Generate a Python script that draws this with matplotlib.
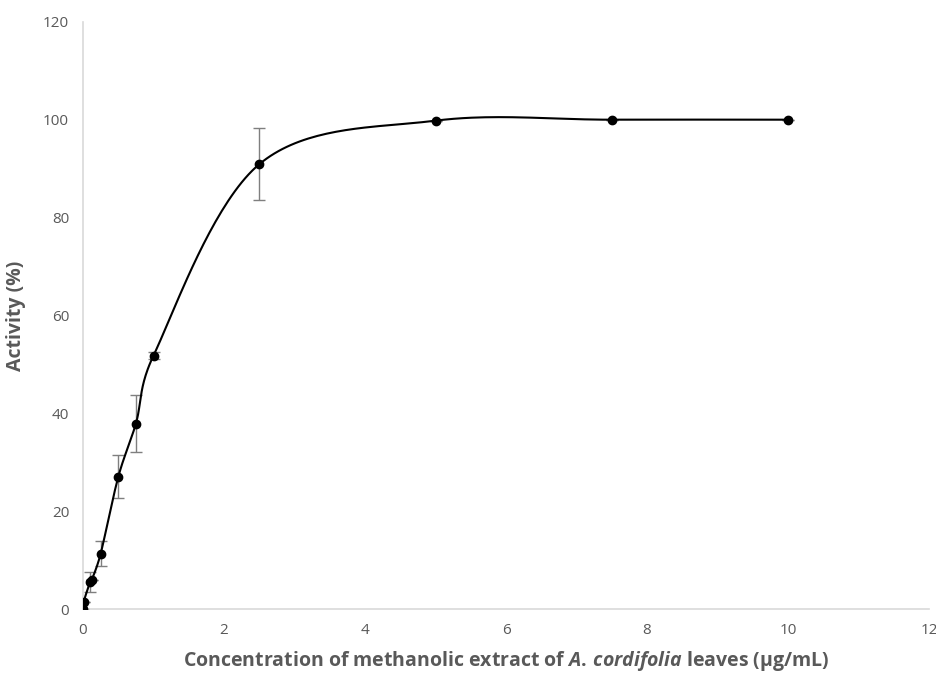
import numpy as np
import matplotlib
matplotlib.use("Agg")
import matplotlib.pyplot as plt

# data
conc = [0, 0.01, 0.1, 0.125, 0.25, 0.5, 0.75, 1.0, 2.5, 5.0, 7.5, 10.0]
activity = [0, 1.5, 5.5, 6.0, 11.3, 27.0, 37.9, 51.8, 90.9, 99.8, 100.0, 100.0]
err = [0, 0, 2.0, 0, 2.5, 4.4, 5.8, 0.8, 7.3, 0, 0, 0]

plt.rcParams['font.family'] = ['Open Sans', 'DejaVu Sans']
plt.rcParams['mathtext.fontset'] = 'custom'
plt.rcParams['mathtext.it'] = 'Open Sans:italic:bold'
plt.rcParams['mathtext.rm'] = 'Open Sans:bold'
grey = '#595959'


def smooth(x, y, sx=70.5, sy=4.89, n=40):
    # excel style smoothed line: catmull-rom bezier arms (1/6),
    # clamped to half the segment length (pixel space)
    P = np.column_stack([np.asarray(x, float) * sx, np.asarray(y, float) * sy])
    m = len(P)
    t = np.linspace(0, 1, n)[:, None]
    out = []
    for i in range(m - 1):
        p0, p3 = P[i], P[i + 1]
        seg = np.hypot(*(p3 - p0))
        a1 = (P[i + 1] - P[max(i - 1, 0)]) / 6
        a2 = (P[min(i + 2, m - 1)] - P[i]) / 6
        for a in (a1, a2):
            la = np.hypot(*a)
            if la > 0.5 * seg:
                a *= 0.5 * seg / la
        p1 = p0 + a1
        p2 = p3 - a2
        b = (1 - t) ** 3 * p0 + 3 * (1 - t) ** 2 * t * p1 + 3 * (1 - t) * t ** 2 * p2 + t ** 3 * p3
        out.append(b)
    out = np.vstack(out)
    return out[:, 0] / sx, out[:, 1] / sy


fig = plt.figure(figsize=(9.37, 6.82), dpi=100)
ax = fig.add_axes([0.0886, 0.107, 0.9029, 0.861])

cx, cy = smooth(conc, activity)
ax.plot(cx, cy, color='black', lw=1.5, zorder=2)
ax.errorbar(conc, activity, yerr=err, fmt='none', ecolor='#7f7f7f', elinewidth=1,
            capsize=4, capthick=1, zorder=1)
ax.plot(conc, activity, 'o', color='black', ms=6, zorder=3)

ax.set_xlim(0, 12)
ax.set_ylim(0, 120)
ax.set_xticks(range(0, 13, 2))
ax.set_yticks(range(0, 121, 20))
for s in ['top', 'right']:
    ax.spines[s].set_visible(False)
for s in ['left', 'bottom']:
    ax.spines[s].set_color('#d9d9d9')
    ax.spines[s].set_linewidth(1.2)
ax.tick_params(length=0, labelsize=11, labelcolor=grey, pad=10)

ax.set_xlabel('Concentration of methanolic extract of $\\mathit{A.\\,cordifolia}$ leaves (\u00b5g/mL)',
              fontsize=14, fontweight='bold', color=grey, labelpad=8)
ax.set_ylabel('Activity (%)', fontsize=14, fontweight='bold', color=grey, labelpad=12)

fig.savefig('out.png', dpi=100)
